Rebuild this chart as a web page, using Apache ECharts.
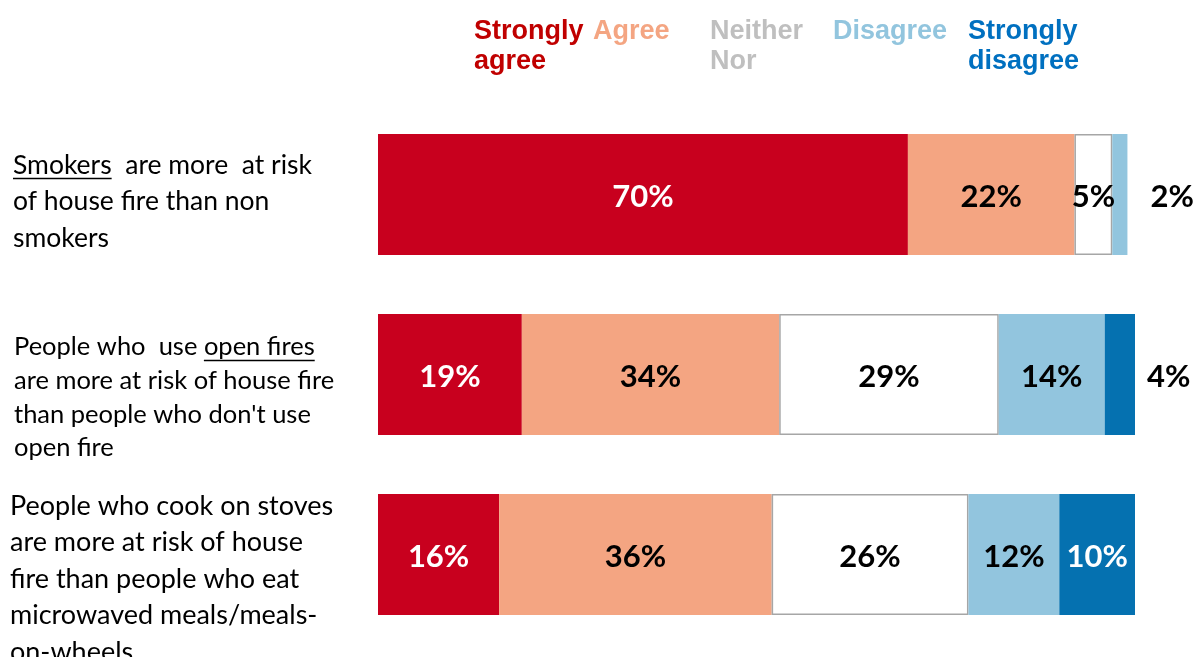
<!DOCTYPE html>
<html><head><meta charset="utf-8">
<script src="https://cdn.jsdelivr.net/npm/echarts@6/dist/echarts.min.js"></script>
<style>html,body{margin:0;padding:0;background:#fff}#c{width:1195px;height:657px}</style>
</head><body><div id="c"></div>
<script>
// ---- data ----
const categoryLines = [
  ['Smokers  are more  at risk', 'of house fire than non', 'smokers'],
  ['People who  use open fires', 'are more at risk of house fire', "than people who don't use", 'open fire'],
  ['People who cook on stoves', 'are more at risk of house', 'fire than people who eat', 'microwaved meals/meals-', 'on-wheels']
];
const categories = categoryLines.map(l => l.join(' '));
const seriesNames = ['Strongly\nagree', 'Agree', 'Neither\nNor', 'Disagree', 'Strongly\ndisagree'];
const stronglyAgree    = [70, 19, 16];
const agree            = [22, 34, 36];
const neither          = [5, 29, 26];
const disagree         = [2, 14, 12];
const stronglyDisagree = [0, 4, 10];
const underlined = [ {row: 0, before: '', word: 'Smokers'}, {row: 1, before: 'People who  use ', word: 'open fires'} ];

// ---- styles ----
const barColors   = ['#C8001E', '#F4A582', '#FFFFFF', '#92C5DE', '#0571B0'];
const legendColors= ['#C00000', '#F4A582', '#BFBFBF', '#92C5DE', '#0070C0'];
const labelColors = ['#FFFFFF', '#000000', '#000000', '#000000', '#FFFFFF'];
const legendLeft  = [474, 593, 710, 833, 968];
const rowFont = [26.5, 25.5, 27];
const rowLH   = [36.5, 33.7, 36.5];
const rowSp   = [14, 46, 49];
const labelStartX = 10;
const rowPadLeft = [3, 4, 0];
const outsideDist = {3: {0: 23}, 4: {1: 12}};

const values = [stronglyAgree, agree, neither, disagree, stronglyDisagree];
const chart = echarts.init(document.getElementById('c'));

const rich = {};
for (let i = 0; i < 3; i++) {
  rich['r' + i] = {fontFamily: 'Lato', fontSize: rowFont[i], lineHeight: rowLH[i], color: '#000', padding: [0, 0, 0, rowPadLeft[i]]};
  rich['s' + i] = {fontSize: 4, lineHeight: rowSp[i]};
}

const gridLeft = 378;
const series = seriesNames.map((name, si) => ({
  name: name,
  type: 'bar',
  stack: 'total',
  barWidth: 121,
  itemStyle: si === 2 ? {color: barColors[si], borderColor: '#A6A6A6', borderWidth: 1.5} : {color: barColors[si]},
  label: {
    show: true, position: 'inside', offset: [0, 2],
    fontFamily: 'Lato', fontWeight: 'bold', fontSize: 31, color: labelColors[si],
    formatter: p => p.value ? p.value + '%' : ''
  },
  emphasis: {disabled: true},
  data: values[si].map((v, ci) => {
    const d = outsideDist[si] && outsideDist[si][ci];
    if (d !== undefined) {
      return {value: v, label: {position: 'right', distance: d, color: '#000'}};
    }
    return v;
  })
}));

const legends = seriesNames.map((name, i) => ({
  left: legendLeft[i] - 5, top: 17, padding: 0,
  icon: 'none', itemWidth: 0, itemHeight: 10, selectedMode: false,
  data: [{name: name, textStyle: {color: legendColors[i]}}],
  textStyle: {fontFamily: 'Liberation Sans', fontWeight: 'bold', fontSize: 27, lineHeight: 30, color: legendColors[i]}
}));

chart.setOption({
  animation: false,
  backgroundColor: '#fff',
  legend: legends,
  grid: {left: gridLeft, right: 60, top: 104.5, bottom: 12.5, containLabel: false, outerBoundsMode: 'none'},
  xAxis: {type: 'value', min: 0, max: 100, show: false},
  yAxis: {
    type: 'category', inverse: true, data: categories,
    axisLine: {show: false}, axisTick: {show: false},
    axisLabel: {
      interval: 0, align: 'left', margin: gridLeft - labelStartX,
      formatter: (val, idx) => '{s' + idx + '| }\n' + categoryLines[idx].map(l => '{r' + idx + '|' + l + '}').join('\n'),
      rich: rich
    }
  },
  series: series
});

// underlines under the underlined words, measured from the rendered font
const ctx = document.createElement('canvas').getContext('2d');
const graphics = underlined.map(u => {
  const r = u.row;
  ctx.font = rowFont[r] + 'px Lato';
  const x0 = labelStartX + rowPadLeft[r] + ctx.measureText(u.before).width;
  const w = ctx.measureText(u.word).width;
  const cy = chart.convertToPixel({yAxisIndex: 0}, r);
  const H = rowSp[r] + categoryLines[r].length * rowLH[r];
  const lineCenter = cy - H / 2 + rowSp[r] + rowLH[r] / 2;
  const y = Math.round(lineCenter + rowFont[r] * 0.5) + 0.5;
  return {type: 'line', silent: true, shape: {x1: x0, y1: y, x2: x0 + w, y2: y}, style: {stroke: '#000', lineWidth: 1.5}};
});
chart.setOption({graphic: graphics});
</script>
</body></html>
